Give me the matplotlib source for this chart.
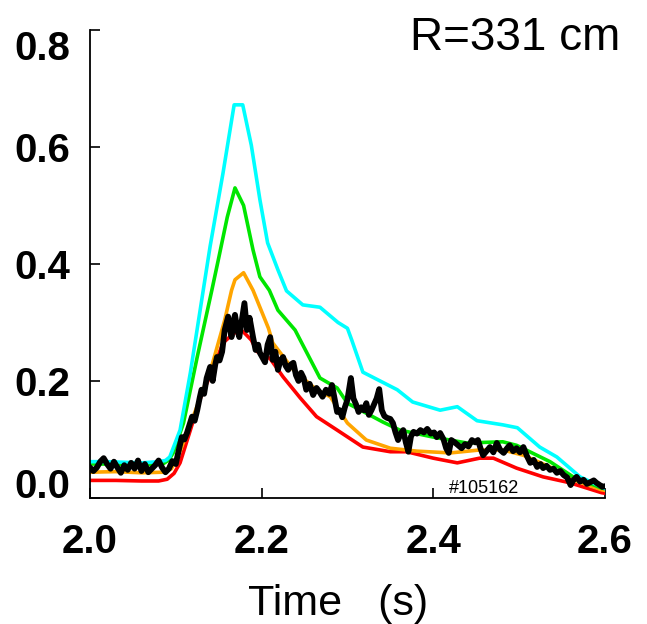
import numpy as np
import matplotlib.pyplot as plt

# time (s) / signal
cyan_t = [2.000, 2.020, 2.040, 2.060, 2.080, 2.088, 2.093, 2.105, 2.117, 2.132, 2.140, 2.155,
          2.168, 2.178, 2.188, 2.198, 2.207, 2.219, 2.229, 2.248, 2.268, 2.289, 2.300, 2.305,
          2.318, 2.358, 2.376, 2.408, 2.428, 2.451, 2.481, 2.498, 2.524, 2.544, 2.571, 2.596, 2.600]
cyan_v = [0.062, 0.062, 0.061, 0.060, 0.062, 0.064, 0.070, 0.116, 0.214, 0.355, 0.430, 0.555,
          0.672, 0.672, 0.603, 0.510, 0.436, 0.390, 0.354, 0.330, 0.326, 0.300, 0.290, 0.270,
          0.215, 0.185, 0.164, 0.150, 0.156, 0.132, 0.125, 0.120, 0.087, 0.070, 0.036, 0.019, 0.016]

green_t = [2.000, 2.030, 2.060, 2.085, 2.092, 2.097, 2.109, 2.125, 2.142, 2.150, 2.160, 2.169,
           2.179, 2.190, 2.198, 2.209, 2.219, 2.229, 2.239, 2.245, 2.268, 2.288, 2.300, 2.341,
           2.361, 2.400, 2.439, 2.481, 2.497, 2.536, 2.563, 2.596, 2.600]
green_v = [0.058, 0.058, 0.056, 0.058, 0.065, 0.077, 0.128, 0.241, 0.355, 0.410, 0.480, 0.530,
           0.500, 0.424, 0.378, 0.355, 0.321, 0.304, 0.287, 0.270, 0.205, 0.188, 0.162, 0.130,
           0.116, 0.104, 0.094, 0.096, 0.090, 0.062, 0.036, 0.017, 0.016]

orange_t = [2.000, 2.030, 2.060, 2.085, 2.095, 2.105, 2.118, 2.132, 2.143, 2.157, 2.165, 2.169,
            2.179, 2.190, 2.208, 2.213, 2.237, 2.264, 2.280, 2.300, 2.322, 2.350, 2.381, 2.420,
            2.454, 2.481, 2.505, 2.536, 2.563, 2.596, 2.600]
orange_v = [0.044, 0.045, 0.043, 0.044, 0.050, 0.080, 0.130, 0.185, 0.231, 0.304, 0.355, 0.373,
            0.385, 0.355, 0.290, 0.265, 0.219, 0.185, 0.173, 0.128, 0.099, 0.085, 0.080, 0.077,
            0.082, 0.082, 0.073, 0.053, 0.031, 0.014, 0.013]

red_t = [2.000, 2.030, 2.060, 2.080, 2.090, 2.098, 2.105, 2.117, 2.128, 2.143, 2.155, 2.168,
         2.178, 2.188, 2.195, 2.210, 2.225, 2.245, 2.264, 2.288, 2.318, 2.350, 2.369, 2.400,
         2.428, 2.454, 2.470, 2.497, 2.528, 2.559, 2.596, 2.600]
red_v = [0.030, 0.030, 0.029, 0.029, 0.032, 0.042, 0.060, 0.116, 0.168, 0.219, 0.265, 0.282,
         0.285, 0.270, 0.250, 0.238, 0.207, 0.171, 0.139, 0.116, 0.087, 0.079, 0.079, 0.068,
         0.060, 0.068, 0.068, 0.051, 0.036, 0.026, 0.009, 0.008]

black_t = [2.000, 2.004, 2.008, 2.012, 2.016, 2.020, 2.024, 2.028, 2.032, 2.036, 2.040, 2.044,
           2.048, 2.052, 2.056, 2.060, 2.064, 2.068, 2.072, 2.076, 2.080, 2.084, 2.088, 2.092,
           2.096, 2.100, 2.104, 2.107, 2.110, 2.113, 2.116, 2.119, 2.122, 2.125, 2.128, 2.130,
           2.133, 2.136, 2.140, 2.143, 2.146, 2.148, 2.151, 2.154, 2.157, 2.161, 2.163, 2.165,
           2.167, 2.169, 2.172, 2.174, 2.177, 2.180, 2.183, 2.186, 2.190, 2.193, 2.196, 2.198,
           2.201, 2.204, 2.207, 2.210, 2.213, 2.216, 2.219, 2.222, 2.225, 2.228, 2.231, 2.234,
           2.237, 2.240, 2.243, 2.246, 2.249, 2.252, 2.256, 2.260, 2.264, 2.268, 2.271, 2.275,
           2.279, 2.282, 2.285, 2.288, 2.291, 2.294, 2.297, 2.300, 2.304, 2.307, 2.310, 2.313,
           2.316, 2.319, 2.322, 2.325, 2.328, 2.331, 2.334, 2.337, 2.340, 2.343, 2.346, 2.350,
           2.353, 2.356, 2.359, 2.362, 2.365, 2.368, 2.371, 2.374, 2.377, 2.381, 2.385, 2.389,
           2.393, 2.397, 2.401, 2.404, 2.408, 2.412, 2.415, 2.418, 2.421, 2.425, 2.429, 2.433,
           2.437, 2.441, 2.445, 2.449, 2.452, 2.455, 2.458, 2.462, 2.466, 2.470, 2.474, 2.478,
           2.482, 2.486, 2.489, 2.493, 2.497, 2.501, 2.505, 2.509, 2.513, 2.517, 2.521, 2.525,
           2.528, 2.532, 2.536, 2.540, 2.544, 2.548, 2.552, 2.556, 2.560, 2.563, 2.567, 2.571,
           2.575, 2.579, 2.583, 2.587, 2.590, 2.594, 2.597, 2.600]
black_v = [0.052, 0.046, 0.052, 0.062, 0.068, 0.058, 0.050, 0.062, 0.052, 0.043, 0.056, 0.048,
           0.060, 0.050, 0.064, 0.046, 0.058, 0.044, 0.050, 0.056, 0.064, 0.052, 0.044, 0.050,
           0.063, 0.058, 0.085, 0.104, 0.100, 0.111, 0.125, 0.139, 0.132, 0.150, 0.172, 0.185,
           0.178, 0.205, 0.224, 0.200, 0.228, 0.241, 0.235, 0.250, 0.287, 0.310, 0.290, 0.275,
           0.300, 0.313, 0.285, 0.275, 0.304, 0.333, 0.287, 0.308, 0.275, 0.253, 0.262, 0.248,
           0.240, 0.232, 0.262, 0.275, 0.236, 0.250, 0.219, 0.235, 0.241, 0.226, 0.219, 0.228,
           0.231, 0.210, 0.200, 0.214, 0.205, 0.185, 0.195, 0.176, 0.188, 0.180, 0.173, 0.185,
           0.178, 0.193, 0.170, 0.147, 0.150, 0.138, 0.155, 0.168, 0.205, 0.170, 0.160, 0.147,
           0.155, 0.150, 0.162, 0.142, 0.150, 0.160, 0.170, 0.186, 0.150, 0.140, 0.137, 0.135,
           0.128, 0.112, 0.099, 0.110, 0.116, 0.095, 0.079, 0.105, 0.113, 0.110, 0.116, 0.112,
           0.118, 0.110, 0.112, 0.104, 0.111, 0.100, 0.085, 0.077, 0.099, 0.095, 0.090, 0.085,
           0.092, 0.088, 0.099, 0.095, 0.099, 0.085, 0.073, 0.080, 0.087, 0.078, 0.094, 0.082,
           0.077, 0.085, 0.090, 0.080, 0.085, 0.078, 0.087, 0.072, 0.060, 0.065, 0.053, 0.058,
           0.051, 0.055, 0.048, 0.050, 0.043, 0.046, 0.039, 0.035, 0.022, 0.030, 0.036, 0.028,
           0.031, 0.024, 0.027, 0.030, 0.026, 0.022, 0.019, 0.020]

xticks = [2.0, 2.2, 2.4, 2.6]
yticks = [0.0, 0.2, 0.4, 0.6, 0.8]

plt.rcParams['font.family'] = ['Liberation Sans', 'DejaVu Sans']

fig = plt.figure(figsize=(6.47, 6.24), dpi=100)
ax = fig.add_axes([0.139, 0.202, 0.796, 0.750])

ax.plot(red_t, red_v, color='#ff0000', lw=2.6)
ax.plot(orange_t, orange_v, color='#ffa500', lw=2.6)
ax.plot(green_t, green_v, color='#00e600', lw=2.6)
ax.plot(cyan_t, cyan_v, color='#00ffff', lw=2.6)
ax.plot(black_t, black_v, color='black', lw=4.2)

ax.set_xlim(2.0, 2.6)
ax.set_ylim(0.0, 0.8)
ax.spines['top'].set_visible(False)
ax.spines['right'].set_visible(False)
for s in ['left', 'bottom']:
    ax.spines[s].set_linewidth(1.3)

ax.set_xticks(xticks)
ax.set_xticklabels(['%.1f' % v for v in xticks], fontsize=29, fontweight='bold')
ax.set_yticks(yticks)
ax.set_yticklabels(['%.1f' % v for v in yticks], fontsize=29, fontweight='bold')
ax.tick_params(axis='both', direction='in', length=7, width=1.2)
ax.tick_params(axis='x', pad=18)
ax.tick_params(axis='y', pad=14)
ylabs = ax.get_yticklabels()
ylabs[0].set_va('baseline')
ylabs[-1].set_va('top')

ax.text(0.697, 0.011, '#105162', transform=ax.transAxes, fontsize=13)
fig.text(0.523, 0.032, 'Time   (s)', ha='center', va='center', fontsize=31)
fig.text(0.958, 0.975, 'R=331 cm', ha='right', va='top', fontsize=33)

fig.savefig('out.png', dpi=100)
